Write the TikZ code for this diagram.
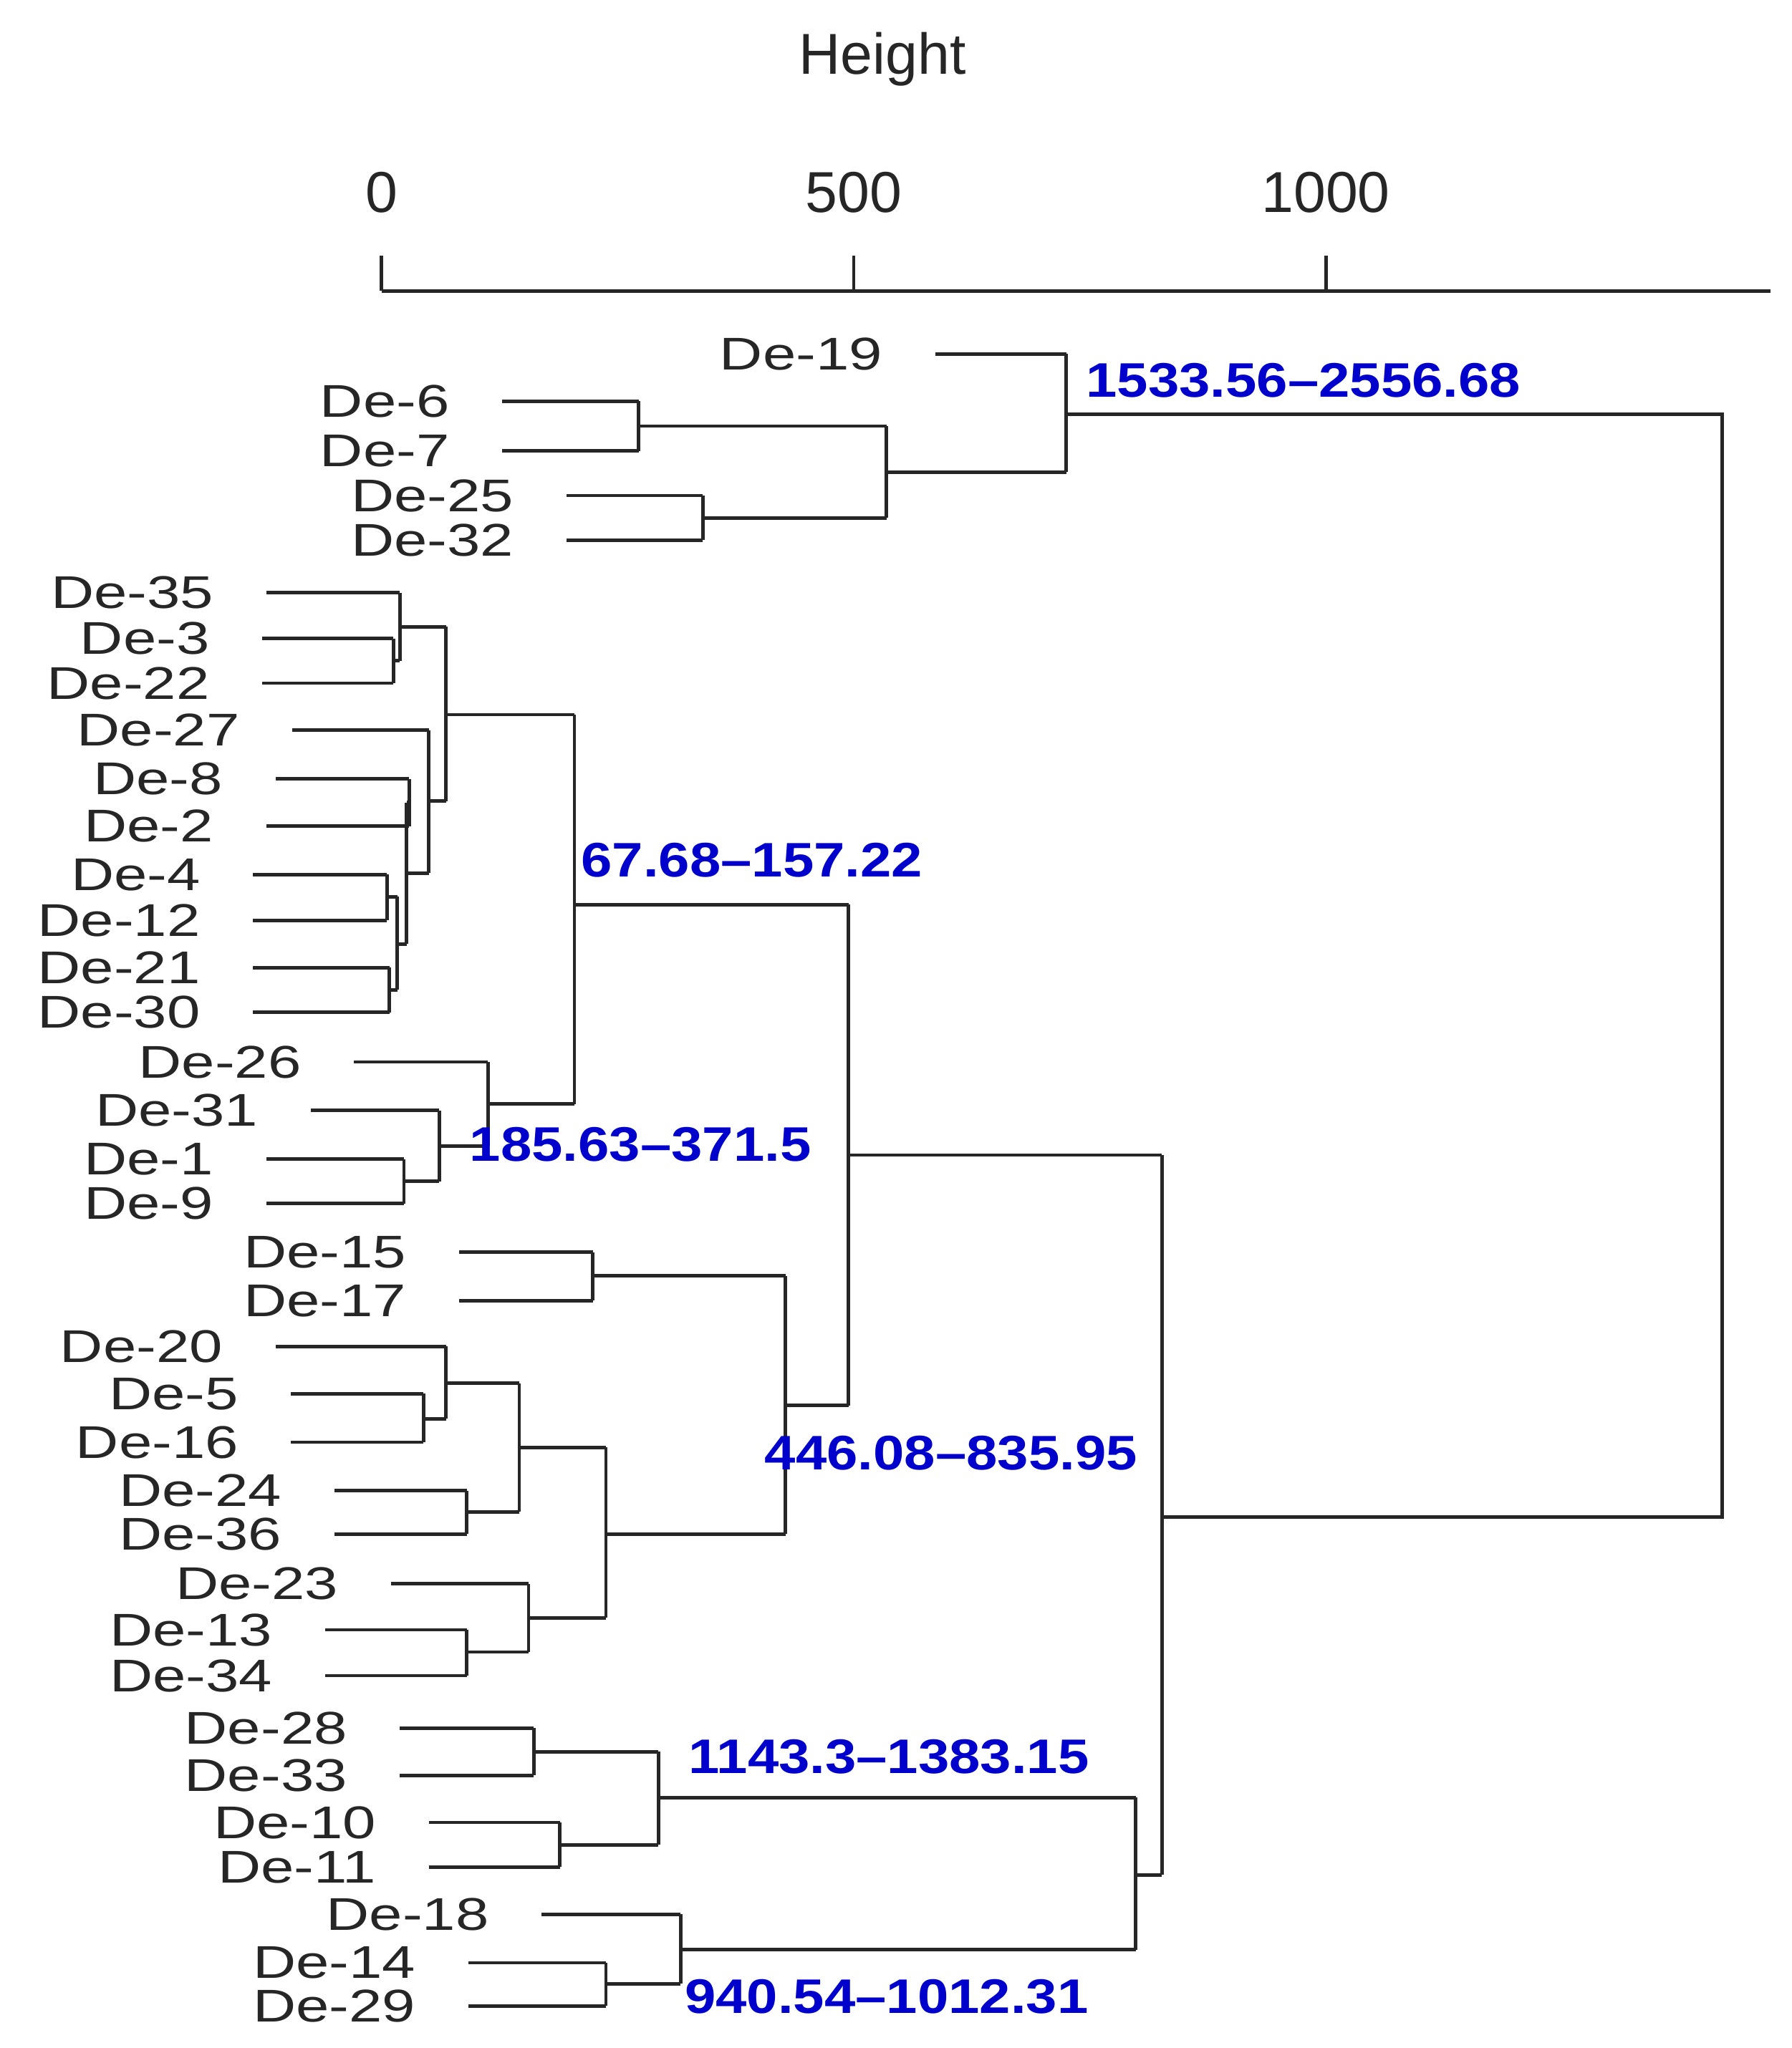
\documentclass[tikz,border=0pt]{standalone}
\usepackage{fontspec}
\setmainfont{Liberation Sans}
\begin{document}
\begin{tikzpicture}[x=1pt,y=-1pt,
  br/.style={line width=2.6pt,black!85},
  lf/.style={anchor=east,font=\fontsize{35}{35}\selectfont,text=black!85,inner sep=0pt,xscale=1.3},
  val/.style={anchor=west,font=\fontsize{37}{37}\selectfont\bfseries,text=blue!80!black,inner sep=0pt,xscale=1.15},
  ax/.style={font=\fontsize{44}{44}\selectfont,text=black!85,inner sep=0pt}]
\useasboundingbox (0,0) rectangle (1366,1562);
% leaf: name, y, x start, x end
\newcommand{\lv}[4]{\node[lf] at (#3-40,#2) {#1}; \draw[br] (#3,#2) -- (#4,#2);}
\newcommand{\vj}[3]{\draw[br] (#1,#2) -- (#1,#3);}
% axis
\node[ax] at (673,45) {Height};
\draw[br] (291,222) -- (1350,222);
\foreach \x/\l in {291/0,651/500,1011/1000}{\draw[br] (\x,195) -- (\x,222); \node[ax] at (\x,147) {\l};}
% group 1
\lv{De-19}{270}{713}{813}
\lv{De-6}{306}{383}{487}
\lv{De-7}{344}{383}{487}
\lv{De-25}{378}{432}{536}
\lv{De-32}{412}{432}{536}
\vj{487}{306}{344} \draw[br] (487,325) -- (676,325);
\vj{536}{378}{412} \draw[br] (536,395) -- (676,395);
\vj{676}{325}{395} \draw[br] (676,360) -- (813,360);
\vj{813}{270}{360}
\draw[br] (813,316) -- (1313,316) -- (1313,1157) -- (886,1157);
\node[val] at (828,290) {1533.56–2556.68};
% group 2
\lv{De-35}{452}{203}{305}
\lv{De-3}{487}{200}{300}
\lv{De-22}{521}{200}{300}
\lv{De-27}{557}{223}{327}
\lv{De-8}{594}{210}{312}
\lv{De-2}{630}{203}{312}
\lv{De-4}{667}{193}{295}
\lv{De-12}{702}{193}{295}
\lv{De-21}{738}{193}{297}
\lv{De-30}{772}{193}{297}
\vj{300}{487}{521} \draw[br] (300,504) -- (305,504);
\vj{305}{452}{504} \draw[br] (305,478) -- (340,478);
\vj{295}{667}{702} \draw[br] (295,684) -- (303,684);
\vj{297}{738}{772} \draw[br] (297,755) -- (303,755);
\vj{303}{684}{755} \draw[br] (303,720) -- (310,720);
\vj{312}{594}{630} \draw[br] (312,612) -- (310,612);
\vj{310}{612}{720} \draw[br] (310,666) -- (327,666);
\vj{327}{557}{666} \draw[br] (327,611) -- (340,611);
\vj{340}{478}{611} \draw[br] (340,545) -- (438,545);
\lv{De-26}{810}{270}{372}
\lv{De-31}{847}{237}{335}
\lv{De-1}{884}{203}{308}
\lv{De-9}{918}{203}{308}
\vj{308}{884}{918} \draw[br] (308,901) -- (335,901);
\vj{335}{847}{901} \draw[br] (335,874) -- (372,874);
\vj{372}{810}{874} \draw[br] (372,842) -- (438,842);
\vj{438}{545}{842} \draw[br] (438,690) -- (647,690);
\node[val] at (443,656) {67.68–157.22};
\node[val] at (358,873) {185.63–371.5};
% group 3
\lv{De-15}{955}{350}{452}
\lv{De-17}{992}{350}{452}
\vj{452}{955}{992} \draw[br] (452,973) -- (599,973);
\lv{De-20}{1027}{210}{340}
\lv{De-5}{1063}{222}{323}
\lv{De-16}{1100}{222}{323}
\vj{323}{1063}{1100} \draw[br] (323,1082) -- (340,1082);
\vj{340}{1027}{1082} \draw[br] (340,1055) -- (396,1055);
\lv{De-24}{1137}{255}{356}
\lv{De-36}{1170}{255}{356}
\vj{356}{1137}{1170} \draw[br] (356,1153) -- (396,1153);
\vj{396}{1055}{1153} \draw[br] (396,1104) -- (462,1104);
\lv{De-23}{1208}{298}{403}
\lv{De-13}{1243}{248}{356}
\lv{De-34}{1278}{248}{356}
\vj{356}{1243}{1278} \draw[br] (356,1260) -- (403,1260);
\vj{403}{1208}{1260} \draw[br] (403,1234) -- (462,1234);
\vj{462}{1104}{1234} \draw[br] (462,1170) -- (599,1170);
\vj{599}{973}{1170} \draw[br] (599,1072) -- (647,1072);
\vj{647}{690}{1072} \draw[br] (647,881) -- (886,881);
\node[val] at (583,1108) {446.08–835.95};
% group 4
\lv{De-28}{1318}{305}{407}
\lv{De-33}{1354}{305}{407}
\vj{407}{1318}{1354} \draw[br] (407,1336) -- (502,1336);
\lv{De-10}{1390}{327}{427}
\lv{De-11}{1424}{327}{427}
\vj{427}{1390}{1424} \draw[br] (427,1407) -- (502,1407);
\vj{502}{1336}{1407} \draw[br] (502,1371) -- (866,1371);
\lv{De-18}{1460}{413}{519}
\lv{De-14}{1497}{357}{462}
\lv{De-29}{1530}{357}{462}
\vj{462}{1497}{1530} \draw[br] (462,1513) -- (519,1513);
\vj{519}{1460}{1513} \draw[br] (519,1487) -- (866,1487);
\vj{866}{1371}{1487} \draw[br] (866,1430) -- (886,1430);
\vj{886}{881}{1430}
\node[val] at (525,1340) {1143.3–1383.15};
\node[val] at (522,1523) {940.54–1012.31};
\end{tikzpicture}
\end{document}
